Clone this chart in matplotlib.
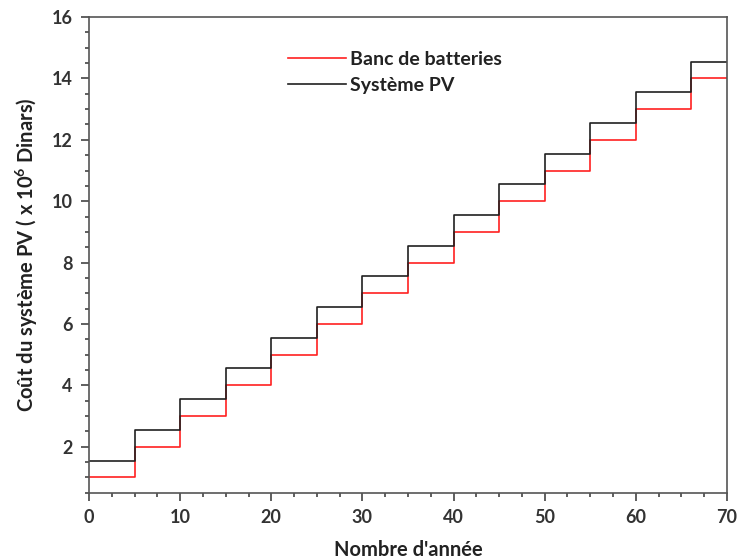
import matplotlib
matplotlib.use("Agg")
import matplotlib.pyplot as plt
from matplotlib.ticker import MultipleLocator

plt.rcParams['font.family'] = ['Lato', 'DejaVu Sans']
plt.rcParams['mathtext.fontset'] = 'custom'
plt.rcParams['mathtext.rm'] = 'Lato:bold'
plt.rcParams['mathtext.bf'] = 'Lato:bold'
plt.rcParams['mathtext.default'] = 'regular'

# step data
years = [0, 5, 10, 15, 20, 25, 30, 35, 40, 45, 50, 55, 60, 66, 70]
batteries = [1, 2, 3, 4, 5, 6, 7, 8, 9, 10, 11, 12, 13, 14, 14]
systeme_pv = [1.55, 2.55, 3.55, 4.55, 5.55, 6.55, 7.55, 8.55, 9.55, 10.55,
              11.55, 12.55, 13.55, 14.55, 14.55]

fig = plt.figure(figsize=(7.37, 5.6), dpi=100)
ax = fig.add_axes([0.1208, 0.12, 0.8656, 0.8496])

ax.step(years, batteries, where='post', color='#ff2020', lw=1.2,
        label='Banc de batteries')
ax.step(years, systeme_pv, where='post', color='#202020', lw=1.2,
        label='Système PV')

ax.set_xlim(0, 70)
ax.set_ylim(0.5, 16)
ax.xaxis.set_major_locator(MultipleLocator(10))
ax.xaxis.set_minor_locator(MultipleLocator(2.5))
ax.yaxis.set_major_locator(MultipleLocator(2))
ax.yaxis.set_minor_locator(MultipleLocator(0.5))
ax.tick_params(which='both', direction='out', colors='#444444',
               labelcolor='#333333', width=1.2)
ax.tick_params(which='major', length=6, labelsize=13, pad=6)
ax.tick_params(which='minor', length=3)
for lab in ax.get_xticklabels() + ax.get_yticklabels():
    lab.set_fontweight('bold')
for s in ax.spines.values():
    s.set_color('#555555')
    s.set_linewidth(1.2)

ax.set_xlabel("Nombre d'année", fontsize=14.5, fontweight='bold',
              color='#222222', labelpad=10)
ax.set_ylabel(r"Coût du système PV ( x 10$^{6}$ Dinars)", fontsize=14.5,
              fontweight='bold', color='#222222', labelpad=8)

leg = ax.legend(loc='upper left', bbox_to_anchor=(0.284, 0.965), frameon=False,
                fontsize=14, handlelength=3.0, handletextpad=0.2,
                labelspacing=0.45)
for t in leg.get_texts():
    t.set_fontweight('bold')
    t.set_color('#222222')

fig.savefig("out.png", dpi=100)
